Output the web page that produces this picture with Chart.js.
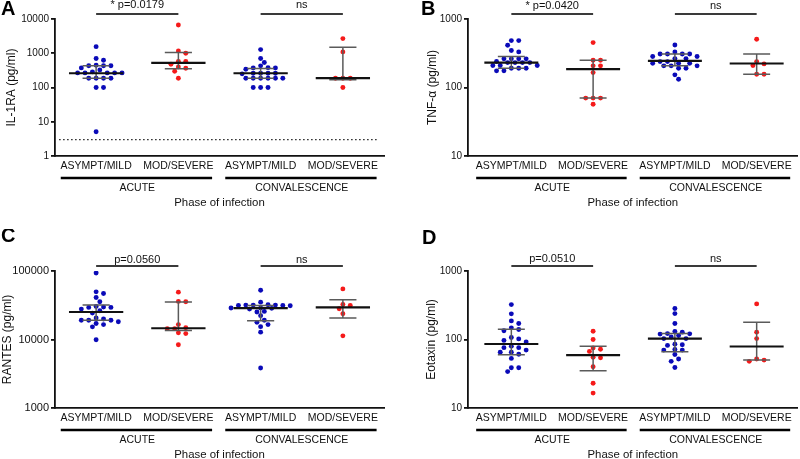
<!DOCTYPE html>
<html><head><meta charset="utf-8">
<script src="https://cdn.jsdelivr.net/npm/chart.js@4/dist/chart.umd.min.js"></script>
<style>
html,body{margin:0;padding:0;background:#fff;}
#wrap{position:relative;width:800px;height:459px;overflow:hidden;background:#fff;}
#wrap .p{position:absolute;}
canvas{display:block;}
</style></head><body>
<div id="wrap">
  <div class="p" style="left:0;top:0"><canvas id="cA" width="400" height="229"></canvas></div>
  <div class="p" style="left:400px;top:0"><canvas id="cB" width="400" height="229"></canvas></div>
  <div class="p" style="left:0;top:229px"><canvas id="cC" width="400" height="252"></canvas></div>
  <div class="p" style="left:400px;top:229px"><canvas id="cD" width="400" height="252"></canvas></div>
</div>
<script>
// ---------- data ----------
const categories = ['ASYMPT/MILD', 'MOD/SEVERE', 'ASYMPT/MILD', 'MOD/SEVERE'];
const phases = ['ACUTE', 'CONVALESCENCE'];
const xTitle = 'Phase of infection';

// IL-1RA (pg/ml)
const il1raAcuteMild = [1560, 700, 625, 430, 430, 430, 445, 374, 327, 267, 267, 267, 267, 267, 286, 187, 187, 187, 187, 100, 100, 5.1];
const il1raAcuteSevere = [6700, 1170, 1000, 572, 572, 478, 400, 366, 299, 187];
const il1raConvMild = [1280, 700, 535, 428, 380, 374, 374, 340, 261, 261, 261, 261, 250, 187, 187, 187, 187, 187, 187, 100, 100, 100];
const il1raConvSevere = [2675, 1094, 187, 187, 187, 100];
const il1raMedian = [261, 523, 261, 187];
const il1raQ1 = [187, 350, 187, 167];
const il1raQ3 = [430, 1045, 358, 1495];
const il1raSig = ['* p=0.0179', 'ns'];
const il1raLimit = 3;
const il1raTicks = [1, 10, 100, 1000, 10000];

// TNF-α (pg/ml)
const tnfAcuteMild = [484, 484, 414, 346, 331, 262, 262, 262, 262, 240, 231, 231, 231, 231, 209, 209, 209, 191, 191, 191, 175, 175];
const tnfAcuteSevere = [452, 250, 250, 207, 207, 165, 70, 70, 70, 57];
const tnfConvMild = [418, 331, 309, 309, 309, 309, 283, 283, 264, 264, 239, 239, 226, 226, 226, 207, 207, 207, 191, 191, 153, 132];
const tnfConvSevere = [506, 239, 221, 209, 156, 156];
const tnfMedian = [231, 185, 244, 224];
const tnfQ1 = [191, 70, 207, 156];
const tnfQ3 = [283, 250, 309, 309];
const tnfSig = ['* p=0.0420', 'ns'];
const tnfTicks = [10, 100, 1000];

// RANTES (pg/ml)
const rantesAcuteMild = [93500, 49600, 46900, 41100, 35600, 30400, 29700, 29400, 29400, 27800, 26300, 24300, 20600, 19900, 19100, 19100, 19100, 18200, 17100, 16500, 15300, 9900];
const rantesAcuteSevere = [49100, 35600, 36000, 16500, 14400, 14400, 14900, 12500, 12200, 8400];
const rantesConvMild = [52400, 35100, 32100, 31800, 31800, 31800, 31400, 31400, 31100, 28800, 28800, 28500, 27800, 25700, 25200, 22300, 19100, 17800, 16500, 15400, 12800, 3840];
const rantesConvSevere = [54800, 32500, 31400, 28100, 23800, 11300];
const rantesMedian = [25200, 14600, 28800, 29400];
const rantesQ1 = [19100, 13500, 18800, 20600];
const rantesQ3 = [31800, 35200, 31400, 38000];
const rantesSig = ['p=0.0560', 'ns'];
const rantesTicks = [1000, 10000, 100000];

// Eotaxin (pg/ml)
const eotaxinAcuteMild = [323, 237, 187, 171, 148, 140, 134, 107, 102, 97, 92, 80, 76, 76, 70, 65, 65, 61, 53, 38.7, 38.7, 34];
const eotaxinAcuteSevere = [132, 100, 75, 72, 67, 55, 54, 40, 23, 16.5];
const eotaxinConvMild = [283, 239, 171, 131, 128, 122, 121, 120, 114, 109, 103, 103, 85.5, 84, 82, 71.5, 70, 70, 60.5, 52, 48, 39];
const eotaxinConvSevere = [331, 128, 103, 52, 50, 48];
const eotaxinMedian = [86, 59, 103, 79];
const eotaxinQ1 = [60, 35, 66, 50];
const eotaxinQ3 = [141, 80, 122, 179];
const eotaxinSig = ['p=0.0510', 'ns'];
const eotaxinTicks = [10, 100, 1000];

// ---------- styling ----------
const FONT = "'Liberation Sans', Arial, Helvetica, sans-serif";
Chart.defaults.font.family = FONT;
Chart.defaults.color = '#111';
const BLUE = '#0a0ab8';
const RED = '#f51a1a';
const MED_HALF = 0.33, CAP_HALF = 0.165;

function beeswarm(py, step, minDist) {
  const order = py.map((_, i) => i).sort((a, b) => py[a] - py[b]);
  const placed = [];
  const offs = new Array(py.length).fill(0);
  for (const i of order) {
    const y = py[i];
    const near = placed.filter(p => Math.abs(p.y - y) < minDist);
    const bias = near.reduce((s, p) => s + p.x, 0);
    let chosen = 0;
    for (let k = 0; k < 80; k++) {
      let cands = k === 0 ? [0] : [k * step / 2, -k * step / 2];
      if (bias > 0) cands = cands.reverse();
      let ok = null;
      for (const c of cands) {
        if (near.every(p => Math.hypot(p.x - c, p.y - y) >= minDist)) { ok = c; break; }
      }
      if (ok !== null) { chosen = ok; break; }
    }
    offs[i] = chosen;
    placed.push({ x: chosen, y });
  }
  return offs;
}

const annotPlugin = {
  id: 'annot',
  afterDraw(chart) {
    const cfg = chart.options.plugins.annot;
    const { ctx, chartArea } = chart;
    const xs = chart.scales.x;
    ctx.save();
    // significance bars
    [[1, 2], [3, 4]].forEach((pair, k) => {
      const x1 = xs.getPixelForValue(pair[0]), x2 = xs.getPixelForValue(pair[1]);
      const y = chartArea.top - 5;
      ctx.strokeStyle = '#3a3a3a'; ctx.lineWidth = 2;
      ctx.beginPath(); ctx.moveTo(x1, y); ctx.lineTo(x2, y); ctx.stroke();
      ctx.fillStyle = '#111'; ctx.font = '11px ' + FONT;
      ctx.textAlign = 'center'; ctx.textBaseline = 'alphabetic';
      ctx.fillText(cfg.sig[k], (x1 + x2) / 2, y - cfg.sigGap);
    });
    // group bars + phase labels
    [[1, 2], [3, 4]].forEach((pair, k) => {
      const x1 = xs.getPixelForValue(pair[0] - 0.43), x2 = xs.getPixelForValue(pair[1] + 0.41);
      const y = chartArea.bottom + 22;
      ctx.strokeStyle = '#000'; ctx.lineWidth = 2.6;
      ctx.beginPath(); ctx.moveTo(x1, y); ctx.lineTo(x2, y); ctx.stroke();
      ctx.fillStyle = '#111'; ctx.font = '10.5px ' + FONT;
      ctx.textAlign = 'center'; ctx.textBaseline = 'middle';
      ctx.fillText(phases[k], xs.getPixelForValue((pair[0] + pair[1]) / 2), chartArea.bottom + 32);
    });
    // panel letter
    ctx.fillStyle = '#000'; ctx.font = 'bold 20px ' + FONT;
    ctx.textAlign = 'left'; ctx.textBaseline = 'alphabetic';
    ctx.fillText(cfg.letter, cfg.letterX, cfg.letterY);
    ctx.restore();
  }
};

function makeChart(id, p) {
  const groups = p.groups;
  const medData = [], capData = [], vData = [];
  p.median.forEach((m, i) => {
    const c = i + 1;
    medData.push({ x: c - MED_HALF, y: m }, { x: c + MED_HALF, y: m }, { x: c, y: null });
    capData.push({ x: c - CAP_HALF, y: p.q3[i] }, { x: c + CAP_HALF, y: p.q3[i] }, { x: c, y: null },
                 { x: c - CAP_HALF, y: p.q1[i] }, { x: c + CAP_HALF, y: p.q1[i] }, { x: c, y: null });
    vData.push({ x: c, y: p.q1[i] }, { x: c, y: p.q3[i] }, { x: c, y: null });
  });
  const lineDs = (data, color, w) => ({ data, showLine: true, borderColor: color, borderWidth: w,
    pointRadius: 0, spanGaps: false, fill: false });
  const datasets = [
    lineDs(medData, '#111', 2.2),
    lineDs(capData, '#5a5a5a', 1.5),
    lineDs(vData, '#5a5a5a', 1.5)
  ];
  const firstPt = datasets.length;
  groups.forEach((vals, gi) => {
    datasets.push({ data: vals.map(v => ({ x: gi + 1, y: v })), showLine: false,
      pointRadius: 2.45, pointHoverRadius: 2.45, pointBorderWidth: 0,
      pointBackgroundColor: gi % 2 === 0 ? BLUE : RED, borderColor: 'transparent' });
  });
  if (p.limit) {
    datasets.push({ data: [{ x: 0.55, y: p.limit }, { x: 4.42, y: p.limit }], showLine: true,
      borderColor: '#222', borderWidth: 1.2, borderDash: [1.5, 2.5], pointRadius: 0 });
  }
  const chart = new Chart(document.getElementById(id), {
    type: 'scatter',
    data: { datasets },
    options: {
      responsive: false, animation: false, events: [],
      layout: { padding: { top: p.top, right: p.right, bottom: 0, left: 0 } },
      plugins: { legend: { display: false }, tooltip: { enabled: false },
        annot: { sig: p.sig, sigGap: p.sigGap, letter: p.letter, letterX: p.letterX, letterY: p.letterY } },
      scales: {
        x: {
          type: 'linear', min: p.xMin, max: 4.5,
          afterBuildTicks: s => { s.ticks = [1, 2, 3, 4].map(v => ({ value: v })); },
          ticks: { callback: v => categories[Math.round(v) - 1], font: { size: 10.5 }, color: '#111',
            padding: 4, maxRotation: 0, autoSkip: false },
          grid: { display: true, drawOnChartArea: false, drawTicks: false },
          border: { display: true, color: '#111', width: 1.8 },
          title: { display: true, text: xTitle, font: { size: 11.4 }, color: '#111', padding: { top: 0, bottom: 19.2 } },
          afterFit: s => { s.height = 73; }
        },
        y: {
          type: 'logarithmic', min: p.ticks[0], max: p.ticks[p.ticks.length - 1],
          afterBuildTicks: s => { s.ticks = p.ticks.map(v => ({ value: v })); },
          ticks: { callback: v => String(v), font: { size: p.tickSize }, color: '#111', padding: 2, autoSkip: false },
          grid: { drawOnChartArea: false, drawTicks: true, tickLength: 4, color: '#111', lineWidth: 1.8 },
          border: { display: true, color: '#111', width: 1.8 },
          title: { display: true, text: p.yTitle, font: { size: 12 }, color: '#111', padding: { top: p.yTitlePad, bottom: 0 } },
          afterFit: s => { s.width = p.yWidth; }
        }
      }
    },
    plugins: [annotPlugin]
  });
  // arrange points as a column scatter (beeswarm) using the chart's own scales
  const xs = chart.scales.x, ys = chart.scales.y;
  const pxPerUnit = xs.getPixelForValue(2) - xs.getPixelForValue(1);
  groups.forEach((vals, gi) => {
    const py = vals.map(v => ys.getPixelForValue(v));
    const offs = beeswarm(py, 7.4, 4.9);
    chart.data.datasets[firstPt + gi].data = vals.map((v, k) => ({ x: gi + 1 + offs[k] / pxPerUnit, y: v }));
  });
  chart.update('none');
  return chart;
}

makeChart('cA', {
  groups: [il1raAcuteMild, il1raAcuteSevere, il1raConvMild, il1raConvSevere],
  median: il1raMedian, q1: il1raQ1, q3: il1raQ3, sig: il1raSig, limit: il1raLimit, ticks: il1raTicks,
  yTitle: 'IL-1RA (pg/ml)', letter: 'A', letterX: 1, letterY: 15, sigGap: 6.5,
  top: 19, right: 16, xMin: 0.5, yWidth: 55, yTitlePad: 4.8, tickSize: 10
});
makeChart('cB', {
  groups: [tnfAcuteMild, tnfAcuteSevere, tnfConvMild, tnfConvSevere],
  median: tnfMedian, q1: tnfQ1, q3: tnfQ3, sig: tnfSig, ticks: tnfTicks,
  yTitle: 'TNF-α (pg/ml)', letter: 'B', letterX: 21, letterY: 15, sigGap: 5,
  top: 19, right: 1, xMin: 0.47, yWidth: 68, yTitlePad: 25.8, tickSize: 10
});
makeChart('cC', {
  groups: [rantesAcuteMild, rantesAcuteSevere, rantesConvMild, rantesConvSevere],
  median: rantesMedian, q1: rantesQ1, q3: rantesQ3, sig: rantesSig, ticks: rantesTicks,
  yTitle: 'RANTES (pg/ml)', letter: 'C', letterX: 1, letterY: 13, sigGap: 3,
  top: 42, right: 16, xMin: 0.5, yWidth: 55, yTitlePad: 0, tickSize: 11
});
makeChart('cD', {
  groups: [eotaxinAcuteMild, eotaxinAcuteSevere, eotaxinConvMild, eotaxinConvSevere],
  median: eotaxinMedian, q1: eotaxinQ1, q3: eotaxinQ3, sig: eotaxinSig, ticks: eotaxinTicks,
  yTitle: 'Eotaxin (pg/ml)', letter: 'D', letterX: 22, letterY: 15, sigGap: 4,
  top: 42, right: 1, xMin: 0.47, yWidth: 68, yTitlePad: 24.8, tickSize: 10
});
</script>
</body></html>
